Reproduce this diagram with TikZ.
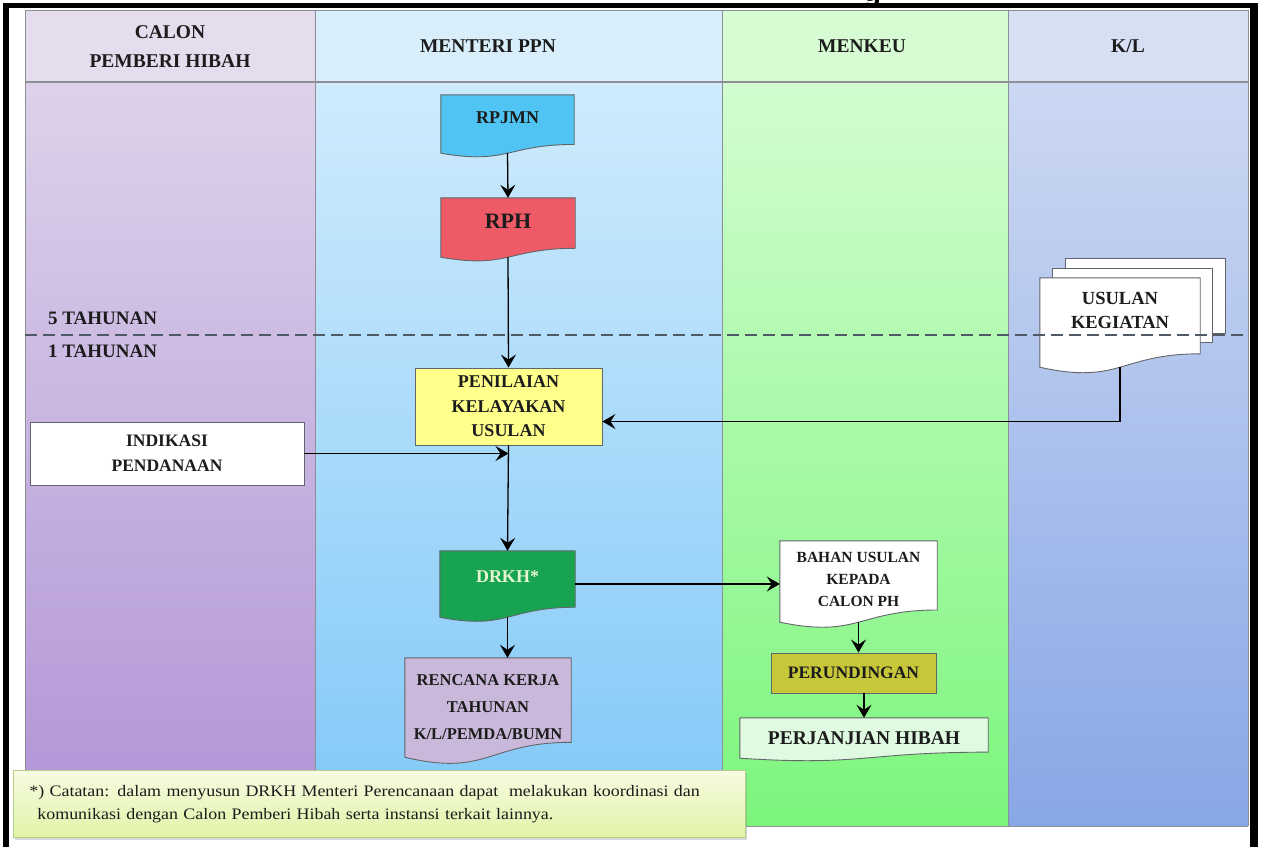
\documentclass[tikz,border=0pt]{standalone}
\usepackage{fontspec}
\setmainfont{Liberation Serif}
\newfontfamily\notefont[FakeStretch=1.12]{Liberation Serif}
\newfontfamily\titlefont{Liberation Sans}
\usetikzlibrary{calc,backgrounds,arrows.meta,shadows}

\definecolor{ink}{HTML}{1C1C1C}
\definecolor{rule}{HTML}{8C9096}
\definecolor{frame}{HTML}{000000}
\definecolor{hcalon}{HTML}{E5DCEE}
\definecolor{hppn}{HTML}{D8EEFB}
\definecolor{hkeu}{HTML}{D7FBD2}
\definecolor{hkl}{HTML}{D7E0F3}
\definecolor{calontop}{HTML}{DDD2EA}
\definecolor{calonbot}{HTML}{B093D6}
\definecolor{ppntop}{HTML}{CFEBFD}
\definecolor{ppnbot}{HTML}{80C8F7}
\definecolor{keutop}{HTML}{D2FDD0}
\definecolor{keubot}{HTML}{7CF57C}
\definecolor{kltop}{HTML}{CCD8F2}
\definecolor{klbot}{HTML}{88A7E6}
\definecolor{fillrpjmn}{HTML}{50C4F2}
\definecolor{fillrph}{HTML}{EE5A66}
\definecolor{fillnilai}{HTML}{FFFF8C}
\definecolor{filldrkh}{HTML}{17A34F}
\definecolor{textdrkh}{HTML}{E6F5D2}
\definecolor{fillrenja}{HTML}{C9B8D9}
\definecolor{fillrunding}{HTML}{C6C83A}
\definecolor{filljanji}{HTML}{E0FAE2}
\definecolor{notetop}{HTML}{F7FBE2}
\definecolor{notebot}{HTML}{E1F4A8}
\definecolor{noteedge}{HTML}{B6CE8A}
\definecolor{dashgray}{HTML}{505A66}

% Dokumen dengan tepi bawah bergelombang, digambar di belakang node
\newcommand\wavedoc[2]{%
  \filldraw[#1] (#2.north west) -- (#2.north east)
    -- ($(#2.south east)!0.15!(#2.north east)$)
    .. controls ($(#2.south)!0.15!(#2.north)$) and ($(#2.south)!-0.2!(#2.north)$) .. (#2.south west)
    -- cycle;}

\begin{document}
\begin{tikzpicture}[
    x=1pt, y=-1pt,
    lanehead/.style={font=\fontsize{19.5}{29}\selectfont\bfseries, text=ink, align=center},
    doc/.style={inner sep=0pt, align=center, text=ink, font=\fontsize{18}{24}\selectfont\bfseries},
    docline/.style={draw=rule!70!black, line width=0.9pt},
    box/.style={draw=rule!70!black, line width=0.9pt, inner sep=0pt, align=center, text=ink,
                font=\fontsize{18}{24.5}\selectfont\bfseries},
    period/.style={font=\fontsize{19}{20}\selectfont\bfseries, text=ink, anchor=west, inner sep=0pt},
    flow/.style={draw=black, line width=1.3pt, -{Stealth[length=13pt, width=15pt, inset=5pt]}},
    note/.style={draw=noteedge, line width=0.8pt, top color=notetop, bottom color=notebot,
                 drop shadow={shadow xshift=2pt, shadow yshift=-3pt, opacity=0.3},
                 font=\notefont\fontsize{16}{23}\selectfont, text=ink, align=left,
                 text width=700pt, inner xsep=16pt, minimum height=67pt},
  ]

  \useasboundingbox (0,0) rectangle (1261,847);

  % Jalur (swimlane) di lapisan belakang
  \begin{scope}[on background layer]
    \fill[white] (0,0) rectangle (1261,847);
    \fill[hcalon] (25,10) rectangle (315,82);
    \fill[hppn] (315,10) rectangle (722,82);
    \fill[hkeu] (722,10) rectangle (1008,82);
    \fill[hkl] (1008,10) rectangle (1248,82);
    \shade[top color=calontop, bottom color=calonbot] (25,82) rectangle (315,826);
    \shade[top color=ppntop, bottom color=ppnbot] (315,82) rectangle (722,826);
    \shade[top color=keutop, bottom color=keubot] (722,82) rectangle (1008,826);
    \shade[top color=kltop, bottom color=klbot] (1008,82) rectangle (1248,826);
    \foreach \x in {25,315,722,1008,1248} \draw[rule, line width=1pt] (\x,10) -- (\x,826);
    \draw[rule, line width=1pt] (25,10) -- (1248,10);
    \draw[rule, line width=2pt] (25,82) -- (1248,82);
    \draw[rule, line width=1pt] (25,826) -- (1248,826);
  \end{scope}

  % Judul jalur
  \node[lanehead] (jcalon) at (170,47) {CALON\\PEMBERI HIBAH};
  \node[lanehead] (jppn) at (488,46) {MENTERI PPN};
  \node[lanehead] (jkeu) at (862,46) {MENKEU};
  \node[lanehead] (jkl) at (1128,46) {K/L};

  % Node alur
  \node[doc, minimum width=133pt, minimum height=58pt, text depth=12pt] (rpjmn) at (507.5,124) {RPJMN};
  \node[doc, minimum width=134pt, minimum height=59pt, text depth=13pt, font=\fontsize{22}{24}\selectfont\bfseries] (rph) at (508,227.5) {RPH};
  \node[box, fill=fillnilai, minimum width=187pt, minimum height=77pt] (nilai) at (508.5,406.5) {PENILAIAN\\KELAYAKAN\\USULAN};
  \node[box, fill=white, minimum width=274pt, minimum height=63pt, font=\fontsize{17.5}{25}\selectfont\bfseries] (indikasi) at (167,453.5) {INDIKASI\\PENDANAAN};
  \node[doc, minimum width=135pt, minimum height=66pt, text depth=14pt, text=textdrkh] (drkh) at (507.5,584) {DRKH*};
  \node[doc, minimum width=166pt, minimum height=99pt, font=\fontsize{16.5}{27}\selectfont\bfseries] (renja) at (488,707.5) {RENCANA KERJA\\TAHUNAN\\K/L/PEMDA/BUMN};
  \node[doc, minimum width=160pt, minimum height=89pt, text depth=24pt, font=\fontsize{18.5}{24}\selectfont\bfseries] (usulan) at (1120,322.5) {USULAN\\KEGIATAN};
  \node[doc, minimum width=157pt, minimum height=81pt, text depth=5pt, font=\fontsize{15.5}{22}\selectfont\bfseries] (bahan) at (858.5,581.5) {BAHAN USULAN\\KEPADA\\CALON PH};
  \node[box, fill=fillrunding, minimum width=165pt, minimum height=40pt, font=\fontsize{17.5}{24}\selectfont\bfseries] (runding) at (853.5,673) {PERUNDINGAN};
  \node[doc, minimum width=248pt, minimum height=40pt, font=\fontsize{19.5}{24}\selectfont\bfseries] (janji) at (864,738) {PERJANJIAN HIBAH};

  % Bentuk dokumen di belakang teks
  \begin{scope}[on background layer]
    \wavedoc{fill=fillrpjmn, docline}{rpjmn}
    \wavedoc{fill=fillrph, docline}{rph}
    \wavedoc{fill=filldrkh, docline}{drkh}
    \wavedoc{fill=fillrenja, docline}{renja}
    \wavedoc{fill=white, docline}{bahan}
    \wavedoc{fill=filljanji, docline}{janji}
    \filldraw[fill=white, docline] ($(usulan.north west)+(26,-19)$) rectangle ($(usulan.north east)+(25,56)$);
    \filldraw[fill=white, docline] ($(usulan.north west)+(13,-9)$) rectangle ($(usulan.north east)+(12,65)$);
    \wavedoc{fill=white, docline}{usulan}
  \end{scope}

  % Batas periode
  \draw[dashgray, line width=1.6pt, dash pattern=on 12pt off 6pt] (25,335) -- (1248,335);
  \node[period] (lima) at (48,318) {5 TAHUNAN};
  \node[period] (satu) at (48,351) {1 TAHUNAN};

  % Panah
  \draw[flow] (rpjmn.south) -- (rph.north);
  \draw[flow] (rph.south) -- (nilai.north);
  \draw[flow] (usulan.south) |- ($(nilai.east)+(0,15)$);
  \draw[flow] (indikasi.east) -- (indikasi.east -| nilai.south);
  \draw[flow] (nilai.south) -- (drkh.north);
  \draw[flow] (drkh.south) -- (drkh.south |- renja.north);
  \draw[flow] (drkh.east) -- (drkh.east -| bahan.west);
  \draw[flow] (bahan.south) -- (bahan.south |- runding.north);
  \draw[flow] (runding.south -| janji.north) -- (janji.north);

  % Catatan
  \node[note, anchor=north west, minimum width=732pt] (catatan) at (13,770)
    {*) Catatan: dalam menyusun DRKH Menteri Perencanaan dapat\ \ melakukan koordinasi dan\\
     \hspace*{8pt}komunikasi dengan Calon Pemberi Hibah serta instansi terkait lainnya.};

  % Bingkai hitam dan sisa judul di atasnya
  \fill[frame] (3,3) rectangle (9,847);
  \fill[frame] (3,3) rectangle (1258,8);
  \fill[frame] (1250,3) rectangle (1258,847);
  \begin{scope}
    \clip (840,0) rectangle (910,3);
    \node[font=\titlefont\bfseries\fontsize{30}{30}\selectfont, anchor=base, inner sep=0pt] (judul) at (872,1) {g};
  \end{scope}

\end{tikzpicture}
\end{document}
